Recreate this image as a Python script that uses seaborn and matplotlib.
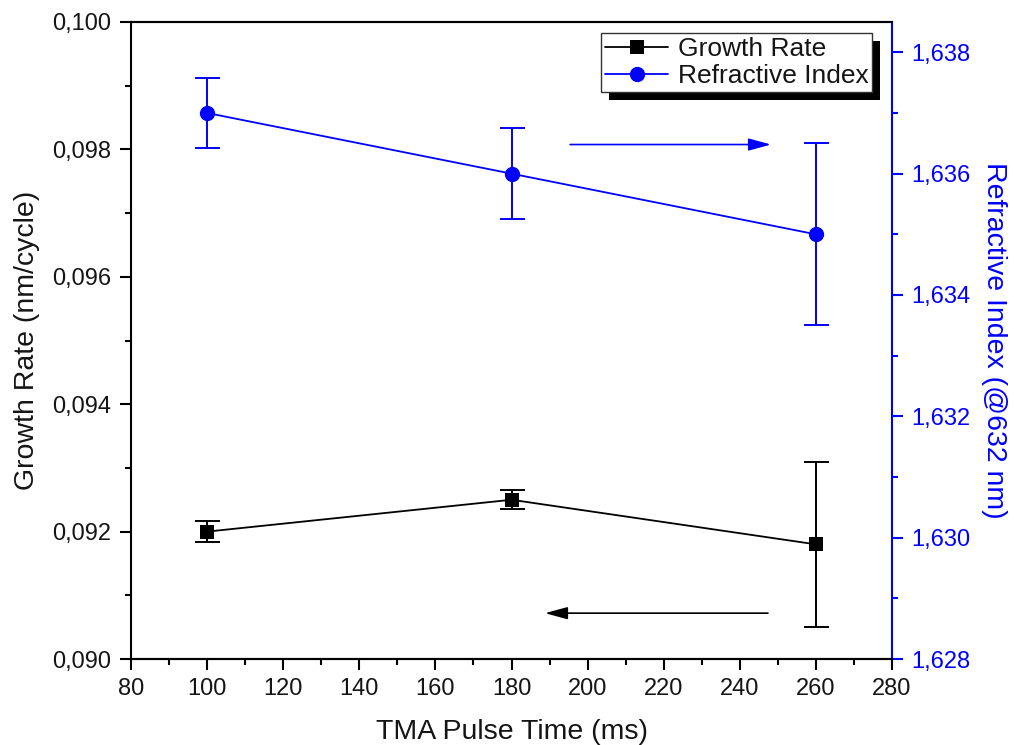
import matplotlib
matplotlib.use("Agg")
import matplotlib.pyplot as plt
import seaborn as sns
import pandas as pd
from matplotlib.ticker import MultipleLocator, FuncFormatter
from matplotlib.patches import Rectangle

# ---- data ----
pulse_time = [100, 180, 260]
growth_rate = [0.0920, 0.0925, 0.0918]
growth_err = [0.00017, 0.00015, 0.0013]
refr_index = [1.6370, 1.6360, 1.6350]
refr_err = [0.00057, 0.00075, 0.0015]

x_label = "TMA Pulse Time (ms)"
y_left_label = "Growth Rate (nm/cycle)"
y_right_label = "Refractive Index (@632 nm)"
series_names = ["Growth Rate", "Refractive Index"]

# annotation arrows (data coords): (x_start, x_end, y)
arrow_right = (195.4, 248.2, 1.63648)
arrow_left = (247.4, 188.8, 0.09072)

BLUE = "#0000ff"
TXT = "#151515"

sns.set_theme(style="white")
plt.rcParams["font.family"] = ["Liberation Sans", "DejaVu Sans"]

df = pd.DataFrame({"t": pulse_time, "gr": growth_rate, "ri": refr_index})

fig = plt.figure(figsize=(10.14, 7.45), dpi=100)
ax = fig.add_axes([0.1292, 0.1154, 0.7505, 0.8551])
ax2 = ax.twinx()

sns.lineplot(data=df, x="t", y="gr", ax=ax, color="black", marker="s",
             markersize=9.5, markeredgewidth=0, linewidth=1.3, label=series_names[0],
             legend=False)
ax.errorbar(pulse_time, growth_rate, yerr=growth_err, fmt="none", ecolor="black",
            elinewidth=1.4, capsize=9, capthick=1.4)

sns.lineplot(data=df, x="t", y="ri", ax=ax2, color=BLUE, marker="o",
             markersize=11, markeredgewidth=0, linewidth=1.3, label=series_names[1],
             legend=False)
ax2.errorbar(pulse_time, refr_index, yerr=refr_err, fmt="none", ecolor=BLUE,
             elinewidth=1.4, capsize=9, capthick=1.4)

ax.set_xlim(80, 280)
ax.set_ylim(0.090, 0.100)
ax2.set_ylim(1.628, 1.6385)

ax.xaxis.set_major_locator(MultipleLocator(20))
ax.xaxis.set_minor_locator(MultipleLocator(10))
ax.yaxis.set_major_locator(MultipleLocator(0.002))
ax.yaxis.set_minor_locator(MultipleLocator(0.001))
ax2.yaxis.set_major_locator(MultipleLocator(0.002))
ax2.yaxis.set_minor_locator(MultipleLocator(0.001))

comma = FuncFormatter(lambda v, p: f"{v:.3f}".replace(".", ","))
ax.yaxis.set_major_formatter(comma)
ax2.yaxis.set_major_formatter(comma)

for a in (ax, ax2):
    for s in a.spines.values():
        s.set_linewidth(1.5)
        s.set_color("black")
ax.spines["right"].set_visible(False)
ax2.spines["right"].set_color(BLUE)
ax2.spines["left"].set_visible(False)

ax.tick_params(axis="both", which="major", direction="out", length=8, width=1.5,
               labelsize=17, color="black", labelcolor=TXT, pad=6,
               bottom=True, left=True, top=False, right=False)
ax.tick_params(axis="both", which="minor", direction="out", length=4.5, width=1.5,
               color="black", bottom=True, left=True, top=False, right=False)
ax2.tick_params(axis="y", which="major", direction="out", length=8, width=1.5,
                labelsize=17, color=BLUE, labelcolor=BLUE, pad=6, right=True)
ax2.tick_params(axis="y", which="minor", direction="out", length=4.5, width=1.5,
                color=BLUE, right=True)

ax.set_xlabel(x_label, fontsize=20.5, color=TXT, labelpad=13)
ax.set_ylabel(y_left_label, fontsize=20.5, color=TXT, labelpad=9)
ax2.set_ylabel(y_right_label, fontsize=20.5, color=BLUE, rotation=270, labelpad=26)

ax.grid(False)
ax2.grid(False)

# arrows
astyle = "-|>,head_length=0.55,head_width=0.15"
ax2.annotate("", xy=(arrow_right[1], arrow_right[2]), xytext=(arrow_right[0], arrow_right[2]),
             arrowprops=dict(arrowstyle=astyle, color=BLUE,
                             lw=1.2, mutation_scale=25, shrinkA=0, shrinkB=0))
ax.annotate("", xy=(arrow_left[1], arrow_left[2]), xytext=(arrow_left[0], arrow_left[2]),
            arrowprops=dict(arrowstyle=astyle, color="black",
                            lw=1.2, mutation_scale=25, shrinkA=0, shrinkB=0))

# legend
h1, l1 = ax.get_legend_handles_labels()
h2, l2 = ax2.get_legend_handles_labels()
leg = ax2.legend(h1 + h2, l1 + l2, loc="upper right", bbox_to_anchor=(0.974, 0.983),
                 borderaxespad=0, fontsize=19, frameon=True, fancybox=False,
                 edgecolor="#333333", framealpha=1, handlelength=2.4,
                 handletextpad=0.35, borderpad=0.15, labelspacing=0.12)
leg.get_frame().set_linewidth(1.0)
for t in leg.get_texts():
    t.set_color(TXT)
leg.set_zorder(10)

fig.canvas.draw()
bb = leg.get_window_extent().transformed(fig.transFigure.inverted())
off_x = 8 / fig.bbox.width
off_y = 8 / fig.bbox.height
shadow = Rectangle((bb.x0 + off_x, bb.y0 - off_y), bb.width, bb.height,
                   transform=fig.transFigure, facecolor="black", edgecolor="none",
                   zorder=9)
ax2.add_artist(shadow)
shadow.set_clip_on(False)

fig.savefig("out.png", dpi=100)
